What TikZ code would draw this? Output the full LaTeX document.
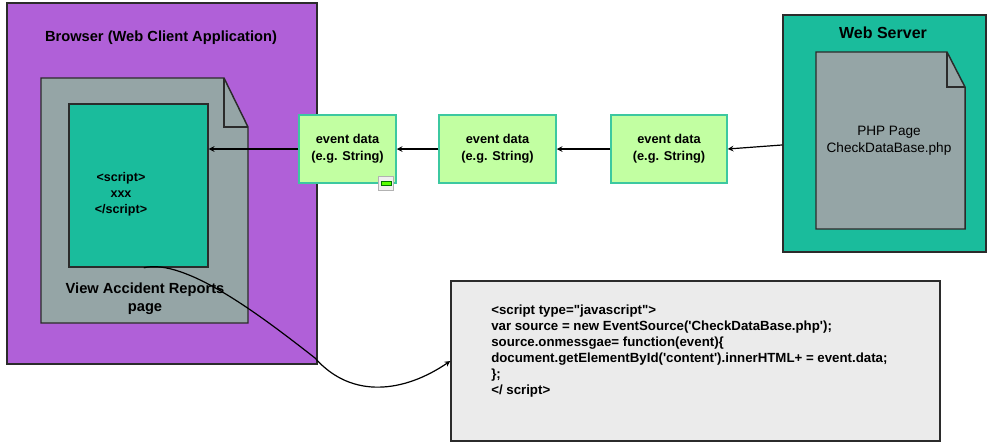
\documentclass[tikz,border=0pt]{standalone}
\usepackage{fontspec}
\setmainfont{Liberation Sans}
\usepackage{tikz}
\usetikzlibrary{arrows}
\definecolor{browserpurple}{HTML}{B060D8}
\definecolor{pagegray}{HTML}{95A5A6}
\definecolor{scriptteal}{HTML}{1ABC9C}
\definecolor{eventgreen}{HTML}{C2FFA2}
\definecolor{eventedge}{HTML}{3CC8A0}
\definecolor{codegray}{HTML}{EBEBEB}
\definecolor{edgedark}{HTML}{2B2B2B}

\begin{document}
\begin{tikzpicture}[x=0.75pt,y=-0.75pt,
  box/.style={draw=edgedark,line width=1.1pt,inner sep=0pt},
  eventbox/.style={draw=eventedge,fill=eventgreen,line width=1.1pt,inner sep=0pt,minimum height=51pt,align=center,font=\bfseries\fontsize{9.6}{12.5}\selectfont},
  flow/.style={-stealth,line width=0.9pt}]
 \useasboundingbox (0,0) rectangle (994,447);

 \draw (162,183.5) node[box,fill=browserpurple,minimum width=232.5pt,minimum height=270.75pt] (browser) {};
 \draw (161,38) node[font=\bfseries\fontsize{11}{13}\selectfont] (browsertitle) {Browser (Web Client Application)};
   \draw[box,fill=pagegray] (41,78) -- (224,78) -- (248,127) -- (248,323) -- (41,323) -- cycle;
   \draw[box] (224,78) -- (224,127) -- (248,127);
     \draw (138.5,185.5) node[box,fill=scriptteal,minimum width=104.25pt,minimum height=122.25pt] (script) {};
     \draw (121,194) node[align=center,font=\bfseries\fontsize{9.4}{12}\selectfont] (scripttext) {<script>\\xxx\\</script>};
   \draw (145,299) node[align=center,font=\bfseries\fontsize{11}{13.5}\selectfont] (pagelabel) {View Accident Reports\\page};

 \draw (347.5,149) node[eventbox,minimum width=72.75pt] (event1) {event data\\(e.g. String)};
   \draw[draw=gray!60,fill=gray!12,line width=0.6pt] (378,176) rectangle (393,190);
   \draw[draw=green!45!black,fill=green!65!yellow,line width=0.5pt] (381,181) rectangle (391,185);
 \draw (497.5,149) node[eventbox,minimum width=87.75pt] (event2) {event data\\(e.g. String)};
 \draw (669,149) node[eventbox,minimum width=87pt] (event3) {event data\\(e.g. String)};

 \draw (884.5,133.5) node[box,fill=scriptteal,minimum width=152.25pt,minimum height=177.75pt] (server) {};
 \draw (883,33) node[font=\bfseries\fontsize{12}{14}\selectfont] (servertitle) {Web Server};
   \draw[box,fill=pagegray] (816,52) -- (947,52) -- (965,87) -- (965,229) -- (816,229) -- cycle;
   \draw[box] (947,52) -- (947,87) -- (965,87);
   \draw (889,141) node[align=center,font=\fontsize{10.2}{12.5}\selectfont] (php) {PHP Page\\CheckDataBase.php};

 \draw (695.5,361) node[box,fill=codegray,minimum width=366.75pt,minimum height=120pt] (code) {};
 \draw (491,305) node[anchor=north west,align=left,inner sep=0pt,font=\bfseries\fontsize{9.95}{12}\selectfont] (codetext)
   {<script type=\textquotedbl javascript\textquotedbl>\\
    var source = new EventSource(\textquotesingle CheckDataBase.php\textquotesingle);\\
    source.onmessgae= function(event)\{\\
    document.getElementById(\textquotesingle content\textquotesingle).innerHTML+ = event.data;\\
    \};\\
    </ script>};

     \path[flow] (event1.west) edge (event1.west -| script.east);
     \path[flow] (event2.west) edge (event1.east);
     \path[flow] (event3.west) edge (event2.east);
     \path[flow] ([yshift=-8.6pt]server.west) edge (event3.east);
     \draw[flow] ([xshift=4pt]script.south) .. controls (185,258) and (260,315) .. (315,358)
       .. controls (352,400) and (405,392) .. (code.west);

\end{tikzpicture}
\end{document}
